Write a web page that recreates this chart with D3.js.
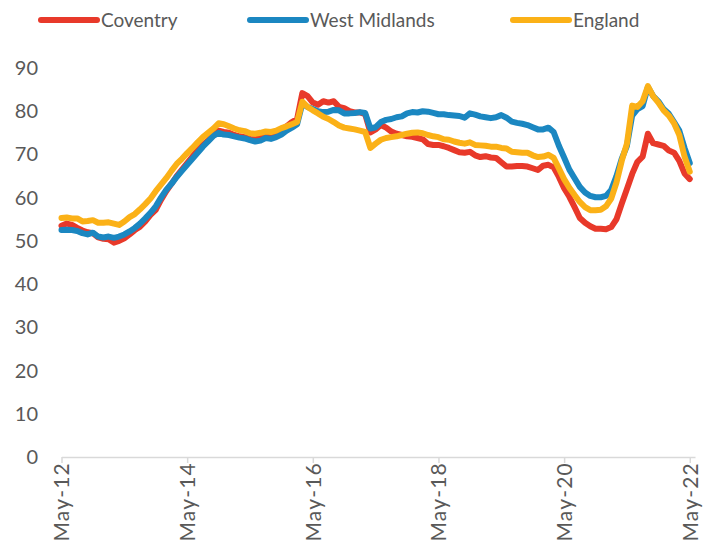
<!DOCTYPE html>
<html>
<head>
<meta charset="utf-8">
<script src="https://cdn.jsdelivr.net/npm/d3@7"></script>
<style>
  body { margin: 0; background: #fff; }
  svg text { font-family: Lato, "Open Sans", sans-serif; fill: #595959; }
</style>
</head>
<body>
<svg id="chart" width="713" height="542"></svg>
<script>
// monthly values, May-12 .. May-22
const coventry = [
  53.5, 54.0, 53.7, 53.0, 52.4, 52.0, 51.8, 50.8, 50.5, 50.4,
  49.6, 50.0, 50.6, 51.5, 52.5, 53.3, 54.5, 56.0, 57.2, 59.5,
  61.5, 63.2, 65.0, 66.5, 68.0, 69.5, 71.0, 72.2, 73.2, 74.5,
  75.5, 75.2, 75.0, 74.5, 74.2, 74.0, 73.6, 73.5, 73.8, 74.3,
  74.8, 75.0, 75.7, 76.5, 77.5, 78.2, 84.2, 83.5, 82.0, 81.5,
  82.3, 82.0, 82.3, 81.0, 80.7, 80.0, 79.7, 79.7, 79.3, 75.1,
  75.8, 76.8, 76.2, 75.3, 74.8, 74.5, 74.2, 74.1, 73.8, 73.5,
  72.4, 72.2, 72.2, 71.9, 71.5, 71.0, 70.5, 70.4, 70.6, 69.8,
  69.4, 69.6, 69.3, 69.2, 68.2, 67.2, 67.2, 67.3, 67.3, 67.2,
  66.8, 66.4, 67.4, 67.6, 67.0, 64.8, 62.2, 60.2, 57.8, 55.3,
  54.2, 53.4, 52.8, 52.8, 52.7, 53.2, 55.0, 58.6, 62.0, 65.5,
  68.3, 69.5, 74.8, 72.6, 72.3, 72.0, 70.9, 70.4, 68.5, 65.6,
  64.3
];
const westMidlands = [
  52.5, 52.6, 52.5, 52.3, 51.8, 51.5, 51.9, 51.0, 50.8, 51.0,
  50.7, 51.0, 51.5, 52.2, 53.0, 54.0, 55.2, 56.5, 58.0, 60.0,
  61.8, 63.2, 64.8, 66.2, 67.6, 69.0, 70.4, 71.8, 73.0, 74.3,
  75.0, 74.6, 74.5, 74.2, 73.9, 73.7, 73.3, 73.0, 73.2, 73.8,
  73.6, 74.0, 74.6, 75.5, 76.2, 77.0, 81.8, 81.0, 80.5, 80.0,
  79.8, 79.9, 80.3, 80.2, 79.5, 79.5, 79.6, 79.8, 79.6, 76.0,
  76.3, 77.5, 78.0, 78.2, 78.6, 78.8, 79.5, 79.8, 79.7, 80.0,
  79.9, 79.6, 79.3, 79.3, 79.1, 79.0, 78.9, 78.5, 79.5, 79.2,
  78.8, 78.6, 78.4, 78.6, 79.1, 78.5, 77.6, 77.3, 77.1, 76.8,
  76.3, 75.8, 75.8, 76.2, 75.2, 72.0, 69.3, 66.5, 64.5, 62.5,
  61.2, 60.4, 60.1, 60.1, 60.4, 61.8, 65.0, 69.0, 72.0, 79.0,
  80.5, 81.2, 85.6, 83.5, 82.3, 80.5, 79.4, 77.5, 75.5, 71.5,
  68.0
];
const england = [
  55.3, 55.4, 55.2, 55.2, 54.5, 54.6, 54.8, 54.2, 54.2, 54.3,
  54.0, 53.7, 54.5, 55.5, 56.2, 57.3, 58.5, 59.8, 61.5, 63.0,
  64.5, 66.2, 67.8, 69.0, 70.3, 71.5, 72.8, 74.0, 75.0, 76.0,
  77.2, 77.0, 76.5, 76.0, 75.6, 75.4, 74.9, 74.8, 75.0, 75.3,
  75.2, 75.5, 76.1, 76.5, 77.0, 77.5, 82.2, 81.0, 80.2, 79.5,
  78.7, 78.2, 77.5, 76.7, 76.2, 76.0, 75.8, 75.5, 75.2, 71.5,
  72.5, 73.4, 73.8, 74.0, 74.2, 74.5, 74.8, 75.0, 75.1, 74.9,
  74.5, 74.2, 74.0, 73.5, 73.4, 73.0, 72.7, 72.5, 72.8, 72.2,
  72.1, 72.0, 71.8, 71.8, 71.5, 71.4, 70.6, 70.5, 70.4, 70.4,
  69.8, 69.4, 69.5, 69.9, 69.2, 66.8, 64.3, 62.3, 60.6, 59.0,
  57.8, 57.1, 57.1, 57.2, 58.0, 59.8, 63.5, 68.5, 72.5, 81.3,
  81.0, 82.3, 85.8, 83.5, 82.0, 80.2, 79.0, 77.2, 74.5, 69.5,
  66.0
];
const xTickLabels = ['May-12', 'May-14', 'May-16', 'May-18', 'May-20', 'May-22'];
const yTicks = [0, 10, 20, 30, 40, 50, 60, 70, 80, 90];

const series = [
  {name: 'Coventry', values: coventry, color: '#e8392a'},
  {name: 'West Midlands', values: westMidlands, color: '#1b87c1'},
  {name: 'England', values: england, color: '#fbb117'}
];

const svg = d3.select('#chart');

const x = d3.scaleLinear().domain([0, 121]).range([61.5, 695]);
const y = d3.scaleLinear().domain([0, 90]).range([457, 68]);

// x axis
const xAxis = svg.append('g')
  .attr('transform', 'translate(0,457)')
  .call(d3.axisBottom(x)
    .tickValues(xTickLabels.map((d, i) => i * 24))
    .tickFormat((d, i) => xTickLabels[i])
    .tickSize(6)
    .tickSizeOuter(0));
xAxis.select('.domain').attr('stroke', '#d9d9d9').attr('stroke-width', 1.5);
xAxis.selectAll('.tick line').attr('stroke', '#d9d9d9').attr('stroke-width', 1.5);
xAxis.selectAll('.tick text')
  .attr('font-size', 21)
  .attr('letter-spacing', 1.2)
  .attr('fill', '#595959')
  .attr('text-anchor', 'end')
  .attr('transform', 'rotate(-90)')
  .attr('x', -5)
  .attr('y', 0)
  .attr('dy', '0.35em');

// y labels, no axis line
svg.append('g')
  .selectAll('text')
  .data(yTicks)
  .join('text')
    .attr('x', 38)
    .attr('y', d => y(d))
    .attr('dy', '0.35em')
    .attr('text-anchor', 'end')
    .attr('font-size', 20)
    .text(d => d);

// lines
const line = d3.line()
  .x((d, i) => x(i))
  .y(d => y(d));

svg.append('g')
  .selectAll('path')
  .data(series)
  .join('path')
    .attr('d', d => line(d.values))
    .attr('fill', 'none')
    .attr('stroke', d => d.color)
    .attr('stroke-width', 6)
    .attr('stroke-linejoin', 'round')
    .attr('stroke-linecap', 'round');

// legend
const legendX = [41, 250, 513];
const legend = svg.append('g')
  .selectAll('g')
  .data(series)
  .join('g')
    .attr('transform', (d, i) => `translate(${legendX[i]},20)`);
legend.append('line')
  .attr('x1', 0).attr('x2', 56)
  .attr('stroke', d => d.color)
  .attr('stroke-width', 6)
  .attr('stroke-linecap', 'round');
legend.append('text')
  .attr('x', 60)
  .attr('dy', '0.35em')
  .attr('font-size', 19)
  .text(d => d.name);
</script>
</body>
</html>
